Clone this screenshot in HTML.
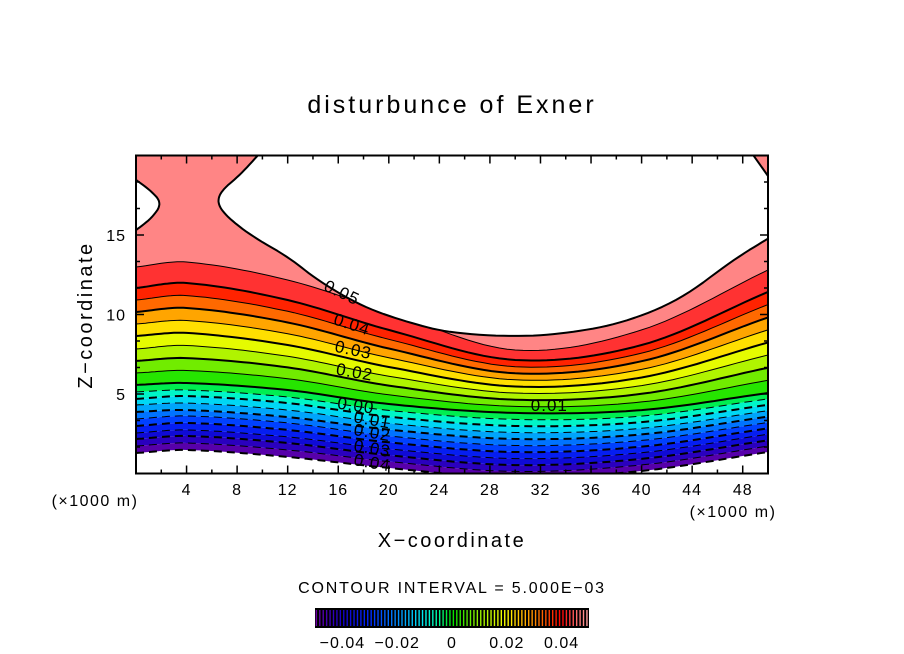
<!DOCTYPE html>
<html><head><meta charset="utf-8">
<style>
html,body{margin:0;padding:0;background:#fff;}
svg{display:block;font-family:"Liberation Sans",sans-serif;}
</style></head>
<body>
<svg id="chart" width="904" height="654" viewBox="0 0 904 654" xmlns="http://www.w3.org/2000/svg">
<defs><clipPath id="plotclip"><rect x="136" y="155.5" width="632" height="318"/></clipPath></defs>
<text x="452" y="113" text-anchor="middle" font-size="25" letter-spacing="3">disturbunce of Exner</text>
<g id="field" clip-path="url(#plotclip)"></g>
<g id="axes"></g>
<text x="452" y="547" text-anchor="middle" font-size="20" letter-spacing="2.5">X−coordinate</text>
<text transform="translate(92,315) rotate(-90)" text-anchor="middle" font-size="20" letter-spacing="2.5">Z−coordinate</text>
<text x="95" y="506" text-anchor="middle" font-size="16" letter-spacing="1.5">(×1000 m)</text>
<text x="733" y="517" text-anchor="middle" font-size="16" letter-spacing="1.5">(×1000 m)</text>
<text x="452" y="593" text-anchor="middle" font-size="16" letter-spacing="1.8">CONTOUR INTERVAL = 5.000E−03</text>
<g id="cbar"></g>
</svg>
<script>
// ---- data ----
const xKnots = [0, 4, 12, 20, 30, 40, 50];
const levels = [-0.05,-0.045,-0.04,-0.035,-0.03,-0.025,-0.02,-0.015,-0.01,-0.005,0,0.005,0.01,0.015,0.02,0.025,0.03,0.035,0.04,0.045];
const levelHeights = [
 [1.29,1.48,1.04,0.35,-0.28,0.16,1.35],
 [1.73,1.92,1.48,0.75,0.13,0.54,1.72],
 [2.17,2.36,1.92,1.15,0.53,0.92,2.09],
 [2.55,2.74,2.30,1.55,0.94,1.31,2.47],
 [2.99,3.18,2.74,1.96,1.35,1.69,2.84],
 [3.43,3.62,3.18,2.36,1.76,2.08,3.21],
 [3.87,3.99,3.55,2.76,2.17,2.46,3.58],
 [4.31,4.43,3.99,3.16,2.58,2.84,3.95],
 [4.69,4.87,4.43,3.57,2.99,3.23,4.32],
 [5.13,5.25,4.81,3.97,3.40,3.61,4.69],
 [5.57,5.69,5.25,4.37,3.81,3.99,5.06],
 [6.32,6.48,5.96,4.95,4.22,4.50,5.86],
 [7.08,7.26,6.67,5.53,4.64,5.01,6.65],
 [7.83,8.05,7.37,6.12,5.06,5.53,7.45],
 [8.65,8.84,8.08,6.70,5.47,6.04,8.24],
 [9.40,9.62,8.79,7.28,5.89,6.55,9.03],
 [10.16,10.41,9.50,7.86,6.30,7.06,9.82],
 [10.91,11.19,10.20,8.44,6.72,7.57,10.62],
 [11.67,11.98,10.91,9.03,7.14,8.08,11.42],
 [12.99,13.30,12.17,10.16,7.77,9.03,12.80]
];
// 0.05 contour (region above is white): smooth lower boundary + right-edge corner points
const edgeMainX = [9.97,8.23,6.80,6.41,7.04,9.02,12.18,14.32,17.96,21.68,24.84,30.14,34.34,38.53,43.04,47.23,50.2];
const edgeMainZ = [20.3,18.77,17.83,17.08,16.26,15.0,13.55,12.17,10.47,9.47,8.84,8.59,8.84,9.47,10.91,13.43,14.87];
const edgeCornerX = [50.2,50,48.58,10];
const edgeCornerZ = [18.71,18.71,20.3,20.3];
const edgeLeftX = [-0.2,1.11,2.06,1.27,-0.2];
const edgeLeftZ = [18.58,17.83,17.01,16.07,15.19];
const xTicks = [4,8,12,16,20,24,28,32,36,40,44,48];
const yTicks = [5,10,15];
const cbarTicks = [-0.04,-0.02,0,0.02,0.04];
const cbarTickLabels = ["−0.04","−0.02","0","0.02","0.04"];
const contourLabels = ["0.05","0.04","0.03","0.02","0.00","0.01","0.02","0.03","0.04","0.01"];
const contourLabelX = [16.3,17.1,17.2,17.3,17.4,18.7,18.7,18.7,18.7,32.7];
const contourLabelZ = [11.4,9.4,7.8,6.4,4.3,3.4,2.6,1.6,0.7,4.3];
const contourLabelRot = [25,18,12,10,8,10,10,10,10,0];

// ---- scales ----
const X0=136, X1=768, Y0=473.5, Y1=155.5;
const sx = x => X0 + (x/50)*(X1-X0);
const sy = z => Y0 - (z/20)*(Y0-Y1);
const NS='http://www.w3.org/2000/svg';
function mk(tag, attrs, parent){const e=document.createElementNS(NS,tag);for(const k in attrs)e.setAttribute(k,attrs[k]);parent.appendChild(e);return e;}

const stops=[[-0.05,[110,0,160]],[-0.04,[20,0,200]],[-0.03,[0,40,255]],[-0.02,[0,140,255]],[-0.01,[0,240,240]],[-0.005,[0,250,160]],[0,[0,225,0]],[0.01,[150,240,0]],[0.02,[255,255,0]],[0.025,[255,190,0]],[0.03,[255,140,0]],[0.035,[255,70,0]],[0.04,[255,0,0]],[0.045,[255,100,100]],[0.05,[255,165,165]]];
function col(v){
  if(v<=stops[0][0])return 'rgb('+stops[0][1]+')';
  for(let i=0;i<stops.length-1;i++){const a=stops[i],b=stops[i+1];
    if(v<=b[0]){const t=(v-a[0])/(b[0]-a[0]);return 'rgb('+a[1].map((c,j)=>Math.round(c+(b[1][j]-c)*t)).join(',')+')';}}
  return 'rgb('+stops[stops.length-1][1]+')';
}
function curve(zs){
  const n=xKnots.length, m=[];
  for(let i=0;i<n;i++){const a=Math.max(0,i-1),b=Math.min(n-1,i+1);m.push((zs[b]-zs[a])/(xKnots[b]-xKnots[a]));}
  const pts=[];
  for(let i=0;i<n-1;i++){const h=xKnots[i+1]-xKnots[i];
    for(let s=0;s<16;s++){const t=s/16,t2=t*t,t3=t2*t;
      const z=(2*t3-3*t2+1)*zs[i]+(t3-2*t2+t)*h*m[i]+(-2*t3+3*t2)*zs[i+1]+(t3-t2)*h*m[i+1];
      pts.push([sx(xKnots[i]+t*h),sy(z)]);}}
  pts.push([sx(xKnots[n-1]),sy(zs[n-1])]);
  return pts;
}
function chaikin(p,iter){
  for(let k=0;k<iter;k++){const q=[p[0]];
    for(let i=0;i<p.length-1;i++){const a=p[i],b=p[i+1];
      q.push([a[0]*0.75+b[0]*0.25,a[1]*0.75+b[1]*0.25]);q.push([a[0]*0.25+b[0]*0.75,a[1]*0.25+b[1]*0.75]);}
    q.push(p[p.length-1]);p=q;}
  return p;
}
const field=document.getElementById('field');
const curves=levelHeights.map(curve);
const P=p=>p.map(q=>q[0].toFixed(1)+','+q[1].toFixed(1)).join(' ');
// bands
for(let i=0;i<levels.length;i++){
  const lower=curves[i];
  const upper= i<levels.length-1 ? curves[i+1] : [[X0,Y1-5],[X1,Y1-5]];
  const poly=lower.concat(upper.slice().reverse());
  const e=mk('polygon',{points:P(poly),fill:col(levels[i]+0.0025)},field);
  
  
}
// contour lines
for(let i=0;i<levels.length;i++){
  const v=levels[i]; const thick=Math.abs(Math.round(v*1000)%10)===0;
  const a={points:P(curves[i]),fill:'none',stroke:'#000','stroke-width':thick?2:1};
  if(v<0)a['stroke-dasharray']='8,5';
  const e=mk('polyline',a,field);
  
  
}
// white region above 0.05
const mainPts=chaikin(edgeMainX.map((x,i)=>[sx(x),sy(edgeMainZ[i])]),3).concat(edgeCornerX.map((x,i)=>[sx(x),sy(edgeCornerZ[i])]));
const wm=mk('polygon',{points:P(mainPts),fill:'#fff',stroke:'#000','stroke-width':2,'stroke-linejoin':'round'},field);


const leftPts=chaikin(edgeLeftX.map((x,i)=>[sx(x),sy(edgeLeftZ[i])]),3);
const wl=mk('polygon',{points:P(leftPts),fill:'#fff',stroke:'#000','stroke-width':2},field);


// contour labels
for(let i=0;i<contourLabels.length;i++){
  const x=sx(contourLabelX[i]),y=sy(contourLabelZ[i]);
  const t=mk('text',{x:x,y:y+6,'text-anchor':'middle','font-size':17,'letter-spacing':1,transform:'rotate('+contourLabelRot[i]+' '+x+' '+y+')'},field);
  t.textContent=contourLabels[i];
  
  
}
// axes
const ax=document.getElementById('axes');
mk('rect',{x:X0,y:Y1,width:X1-X0,height:Y0-Y1,fill:'none',stroke:'#000','stroke-width':2},ax);
for(let x=2;x<50;x+=2){const L=(x%4===0)?8:4;
  mk('line',{x1:sx(x),x2:sx(x),y1:Y0,y2:Y0-L,stroke:'#000','stroke-width':1.5},ax);
  mk('line',{x1:sx(x),x2:sx(x),y1:Y1,y2:Y1+L,stroke:'#000','stroke-width':1.5},ax);}
for(let k=1;k<12;k++){const z=k*5/3;const L=(k%3===0)?8:4;
  mk('line',{x1:X0,x2:X0+L,y1:sy(z),y2:sy(z),stroke:'#000','stroke-width':1.5},ax);
  mk('line',{x1:X1,x2:X1-L,y1:sy(z),y2:sy(z),stroke:'#000','stroke-width':1.5},ax);}
xTicks.forEach(v=>{const t=mk('text',{x:sx(v),y:495,'text-anchor':'middle','font-size':16,'letter-spacing':1},ax);t.textContent=v;
  
  });
yTicks.forEach(v=>{const t=mk('text',{x:126,y:sy(v)+6,'text-anchor':'end','font-size':16,'letter-spacing':1},ax);t.textContent=v;
  
  });
// colorbar
const cb=document.getElementById('cbar');
const cx=v=>452+v*2740;
mk('rect',{x:315,y:608,width:274,height:20,fill:'#000'},cb);
for(let k=0;k<80;k++){const v=-0.0495+k*0.00125;const x=cx(v);
  mk('line',{x1:x,x2:x,y1:610,y2:626,stroke:col(v),'stroke-width':1.4},cb);}
cbarTicks.forEach((v,i)=>{const t=mk('text',{x:cx(v),y:648,'text-anchor':'middle','font-size':16,'letter-spacing':1},cb);t.textContent=cbarTickLabels[i];
  
  });
</script>
</body></html>
